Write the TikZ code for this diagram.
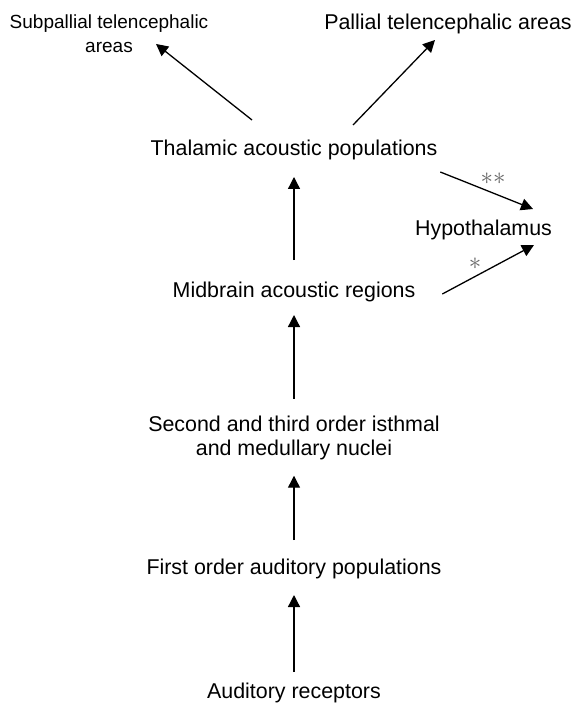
\documentclass[tikz,border=0pt]{standalone}
\usepackage{fontspec}
\setmainfont{Liberation Sans}
\usetikzlibrary{arrows.meta}
\begin{document}
\begin{tikzpicture}[x=1pt,y=-1pt,
  lbl/.style={font=\fontsize{21.4}{24.5}\selectfont, inner sep=0pt, outer sep=0pt, text height=16pt, text depth=5pt, anchor=base},
  mlbl/.style={font=\fontsize{21.4}{24.5}\selectfont, inner sep=0pt, outer sep=0pt, align=center},
  star/.style={font=\fontsize{24}{24}\selectfont, text=black!60, inner sep=0pt},
  arr/.style={line width=1.3pt, -{Triangle[length=12pt,width=12pt]}}]
\useasboundingbox (0,0) rectangle (580,703);
\node[mlbl, font=\fontsize{19}{24}\selectfont, anchor=north] (sub) at (109,15) {Subpallial telencephalic\\areas};
\node[lbl] (pall) at (448,30) {Pallial telencephalic areas};
\node[lbl] (thal) at (294,156) {Thalamic acoustic populations};
\node[lbl] (hyp) at (483.5,236) {Hypothalamus};
\node[lbl] (mid) at (294,297) {Midbrain acoustic regions};
\node[mlbl] (sec) at (294,438) {Second and third order isthmal\\and medullary nuclei};
\node[lbl] (first) at (294,574) {First order auditory populations};
\node[lbl] (rec) at (294,698) {Auditory receptors};
\node[star] (s2) at (493,179) {$\ast\ast$};
\node[star] (s1) at (475,264) {$\ast$};
\draw[arr] ([xshift=-42pt,yshift=20pt]thal.north) -- ([xshift=47pt,yshift=9pt]sub.south);
\draw[arr] ([xshift=59pt,yshift=15pt]thal.north) -- ([xshift=-13pt,yshift=-5pt]pall.south);
\draw[arr] ([xshift=3pt,yshift=-16pt]thal.base east) -- ([xshift=49.5pt,yshift=11pt]hyp.north);
\draw[arr] ([xshift=27pt,yshift=3pt]mid.base east) -- ([xshift=50.5pt,yshift=-4pt]hyp.south);
\draw[arr, shorten <=21pt, shorten >=16pt] (mid.north) -- (thal.south);
\draw[arr, shorten <=17pt, shorten >=13pt] (sec.north) -- (mid.south);
\draw[arr, shorten <=18pt, shorten >=15.5pt] (first.north) -- (sec.south);
\draw[arr, shorten <=10pt, shorten >=16pt] (rec.north) -- (first.south);
\end{tikzpicture}
\end{document}
